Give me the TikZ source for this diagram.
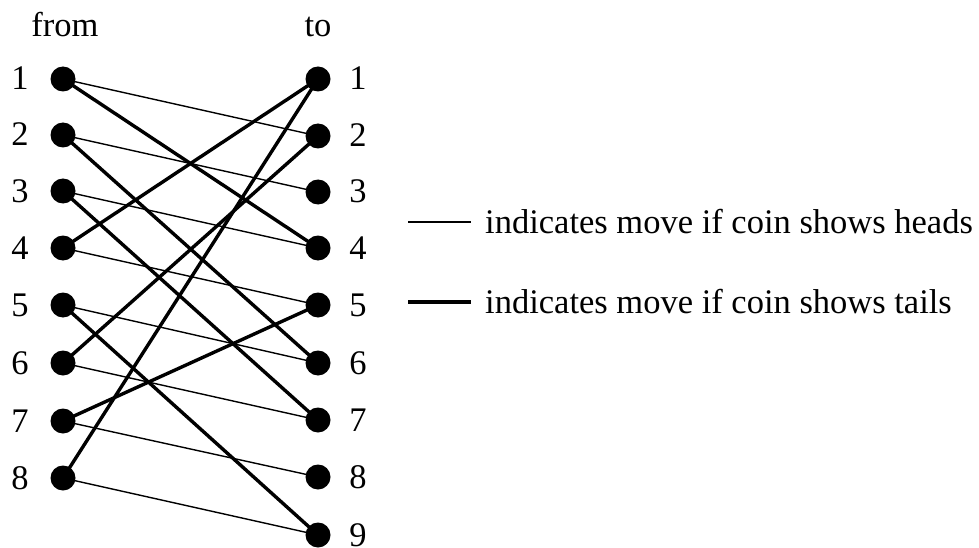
\documentclass[tikz,border=0pt]{standalone}
\usepackage{fontspec}
\setmainfont{Liberation Serif}
\begin{document}
\begin{tikzpicture}[x=1pt,y=-1pt,
  dot/.style={circle,fill=black,inner sep=0pt,minimum size=25pt},
  lbl/.style={anchor=base,inner sep=0pt,font=\fontsize{34.5}{40}\selectfont},
  heads/.style={line width=1.4pt,black},
  tails/.style={line width=3.4pt,black}]
\useasboundingbox (0,0) rectangle (979,548);
% left nodes
\foreach \i/\y in {1/79,2/135,3/191,4/248,5/305,6/363,7/421,8/478}{
  \node[dot] (L\i) at (63,\y) {};
  \node[lbl] (LN\i) at (20,\y+11) {\i};
}
% right nodes
\foreach \i/\y in {1/79,2/136,3/192,4/248,5/305,6/363,7/420,8/477,9/535}{
  \node[dot] (R\i) at (318,\y) {};
  \node[lbl] (RN\i) at (358,\y+11) {\i};
}
\node[lbl] (from) at (65,37) {from};
\node[lbl] (to) at (318,37) {to};
% heads moves
\foreach \a/\b in {1/2,2/3,3/4,4/5,5/6,6/7,7/8,8/9}{
  \draw[heads] (L\a.center) -- (R\b.center);
}
% tails moves
\foreach \a/\b in {1/4,2/6,3/7,4/1,5/9,6/2,7/5,8/1}{
  \draw[tails] (L\a.center) -- (R\b.center);
}
% legend
\coordinate (h1) at (408,222);
\coordinate (h2) at (471,222);
\coordinate (t1) at (408,302);
\coordinate (t2) at (471,302);
\draw[heads] (h1) -- (h2);
\draw[tails] (t1) -- (t2);
\node[lbl,anchor=base west] (hl) at (485,233) {indicates move if coin shows heads};
\node[lbl,anchor=base west] (tl) at (485,313) {indicates move if coin shows tails};
\end{tikzpicture}
\end{document}
